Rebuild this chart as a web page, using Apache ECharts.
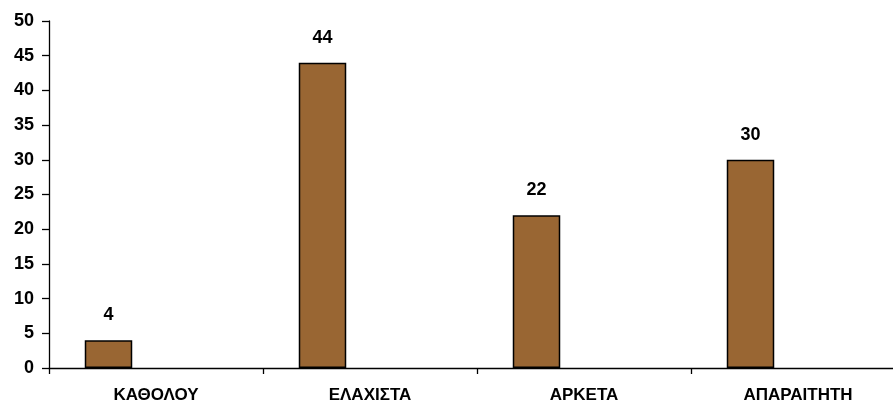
<!DOCTYPE html>
<html><head><meta charset="utf-8">
<script src="https://cdn.jsdelivr.net/npm/echarts@6/dist/echarts.min.js"></script>
<style>html,body{margin:0;padding:0;background:#fff;overflow:hidden;width:893px;height:404px}#c{width:905px;height:404px}</style>
</head><body><div id="c"></div>
<script>
var categories = ['ΚΑΘΟΛΟΥ', 'ΕΛΑΧΙΣΤΑ', 'ΑΡΚΕΤΑ', 'ΑΠΑΡΑΙΤΗΤΗ'];
var values = [4, 44, 22, 30];
var emptyValues = ['-', '-', '-', '-'];
var yTicks = [0, 5, 10, 15, 20, 25, 30, 35, 40, 45, 50];

var chart = echarts.init(document.getElementById('c'), null, {renderer: 'canvas'});
var font = '"Liberation Sans", Arial, sans-serif';
chart.setOption({
  animation: false,
  grid: {left: 49, top: 21, bottom: 36, right: 0, containLabel: false},
  xAxis: {
    type: 'category', data: categories,
    axisLine: {lineStyle: {color: '#000', width: 1.3}},
    axisTick: {show: true, length: 6, lineStyle: {color: '#000', width: 1.3}},
    axisLabel: {color: '#000', fontFamily: font, fontWeight: 'bold', fontSize: 17, margin: 19}
  },
  yAxis: {
    type: 'value', min: yTicks[0], max: yTicks[yTicks.length - 1], interval: 5,
    axisLine: {show: true, lineStyle: {color: '#000', width: 1.3}},
    axisTick: {show: true, length: 7, lineStyle: {color: '#000', width: 1.3}},
    splitLine: {show: false},
    axisLabel: {color: '#000', fontFamily: font, fontWeight: 'bold', fontSize: 18, margin: 15}
  },
  series: [
    {type: 'bar', data: values, barWidth: 47.5, barGap: '0%',
     itemStyle: {color: '#996633', borderColor: '#000', borderWidth: 1.5},
     label: {show: true, position: 'top', distance: 16, color: '#000', fontFamily: font, fontWeight: 'bold', fontSize: 18}},
    {type: 'bar', data: emptyValues, barWidth: 47.5, barGap: '0%'},
    {type: 'bar', data: emptyValues, barWidth: 47.5, barGap: '0%'}
  ]
});
</script></body></html>
